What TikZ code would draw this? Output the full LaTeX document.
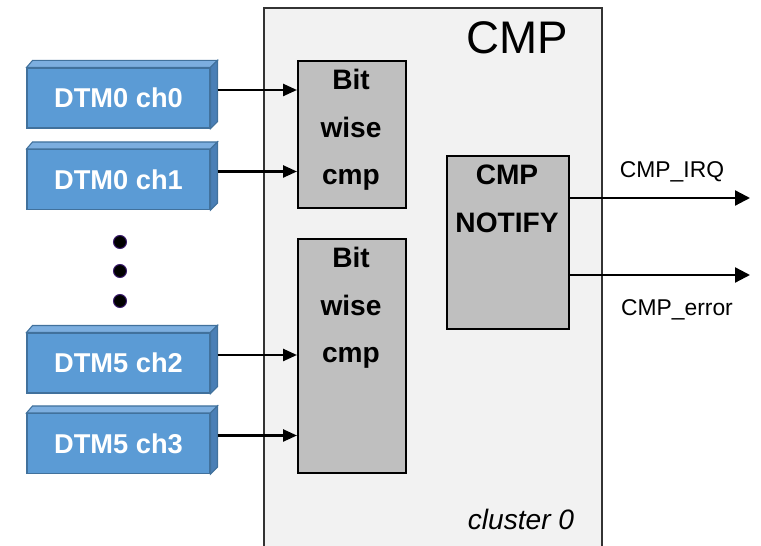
\documentclass[tikz,border=0pt]{standalone}
\usepackage{fontspec}
\setmainfont{Liberation Sans}
\usetikzlibrary{arrows.meta}
\definecolor{dtmblue}{HTML}{5B9BD5}
\definecolor{dtmtop}{HTML}{7CAEDF}
\definecolor{dtmside}{HTML}{4A7FB6}
\definecolor{dtmedge}{HTML}{41719C}
\definecolor{clfill}{HTML}{F2F2F2}
\definecolor{boxgray}{HTML}{BFBFBF}
\definecolor{dotedge}{HTML}{3C1C6E}
\begin{document}
\begin{tikzpicture}[x=0.02cm,y=-0.02cm,
    dtm/.style={fill=dtmblue,draw=dtmedge,line width=0.6pt,minimum width=3.66cm,minimum height=1.2cm,inner sep=0,text=white,font=\fontsize{15.5}{18}\selectfont\bfseries},
    cmpbox/.style={fill=boxgray,draw=black,line width=1.1pt,inner sep=0,anchor=north west},
    boxtxt/.style={align=center,inner sep=0,anchor=north,font=\fontsize{16}{27}\selectfont\bfseries},
    dot/.style={circle,fill=black,draw=dotedge,line width=0.6pt,minimum size=0.26cm,inner sep=0},
    sig/.style={-{Triangle[length=2.8mm,width=2.4mm]},line width=1.4pt},
    sigout/.style={-{Triangle[length=3mm,width=3mm]},line width=1.3pt},
    lbl/.style={inner sep=0,font=\fontsize{13}{15}\selectfont}]
  \useasboundingbox (0,0) rectangle (761,546);
  % cluster frame
  \node[fill=clfill,draw=black!80,line width=1pt,minimum width=6.76cm,minimum height=10.78cm,inner sep=0,anchor=north west] (cl) at (263,7) {};
  \node[font=\fontsize{26}{30}\selectfont] (title) at (517,38) {CMP};
  \node[font=\fontsize{16}{19}\selectfont\itshape] (clname) at (521,519) {cluster 0};
  % comparators
  \node[cmpbox,minimum width=2.16cm,minimum height=2.94cm] (b1) at (297,60) {};
  \node[cmpbox,minimum width=2.16cm,minimum height=4.68cm] (b2) at (297,238) {};
  \node[cmpbox,minimum width=2.44cm,minimum height=3.46cm] (nt) at (446,155) {};
  \node[boxtxt] (b1txt) at (351,69) {Bit\\wise\\cmp};
  \node[boxtxt] (b2txt) at (351,247) {Bit\\wise\\cmp};
  \node[boxtxt] (nttxt) at (507,165) {CMP\\NOTIFY};
  % channels
  \foreach \n/\y/\t/\b in {d0/98/DTM0 ch0/b1,d1/179.5/DTM0 ch1/b1,d2/363/DTM5 ch2/b2,d3/443.5/DTM5 ch3/b2}{
    \node[dtm] (\n) at (118.5,\y) {\t};
    \draw[dtmedge,fill=dtmtop,line width=0.6pt] (\n.north west) -- ++(0.12cm,0.14cm) -- ([shift={(0.14cm,0.14cm)}]\n.north east) -- (\n.north east) -- cycle;
    \draw[dtmedge,fill=dtmside,line width=0.6pt] (\n.north east) -- ++(0.14cm,0.14cm) -- ([shift={(0.14cm,0.14cm)}]\n.south east) -- (\n.south east) -- cycle;
    \coordinate (\n o) at ([shift={(0.14cm,0.16cm)}]\n.east);
    \draw[sig] (\n o) -- (\n o -| \b.west);
  }
  \foreach \y [count=\i] in {242,271,301}
    \node[dot] (dot\i) at (120,\y) {};
  % outputs
  \coordinate (irq) at (750,198);
  \coordinate (err) at (750,275);
  \draw[sigout] (nt.east |- irq) -- (irq);
  \draw[sigout] (nt.east |- err) -- (err);
  \node[lbl] (irqlbl) at (672,172) {CMP\_IRQ};
  \node[lbl] (errlbl) at (677,310) {CMP\_error};
\end{tikzpicture}
\end{document}
